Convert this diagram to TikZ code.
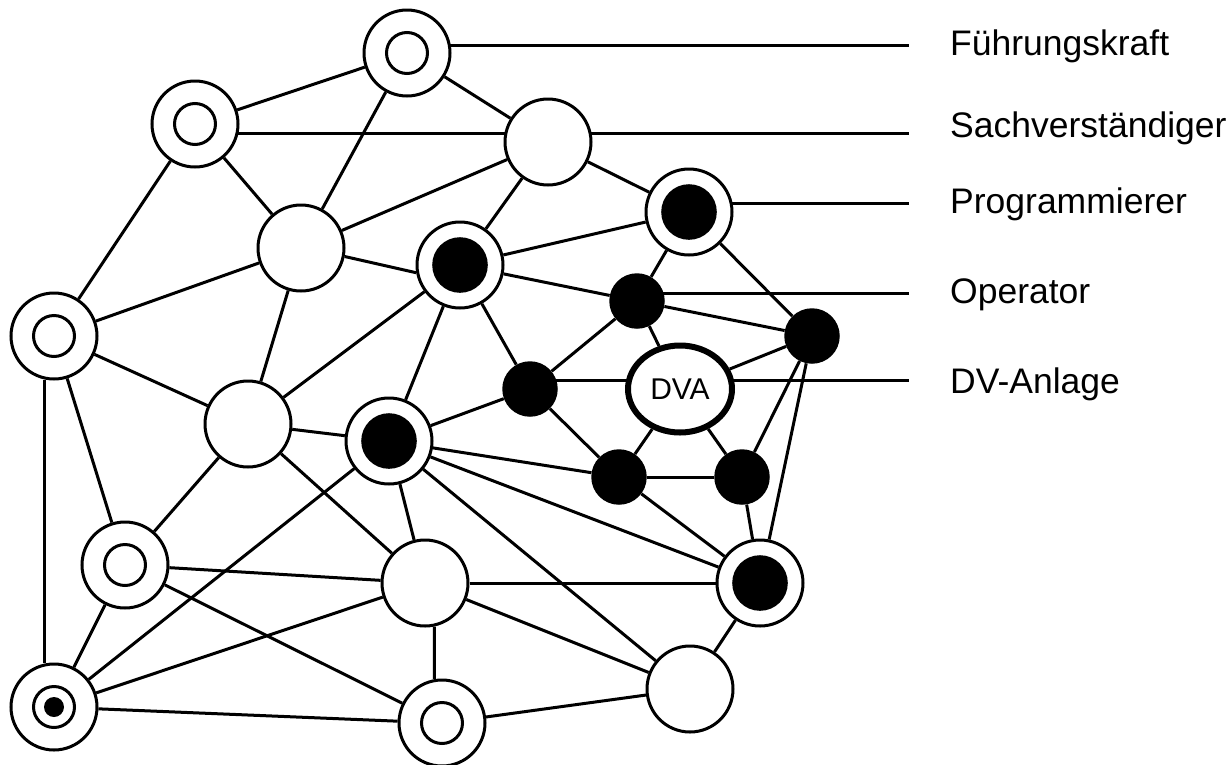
\documentclass[tikz,border=0pt]{standalone}
\usepackage{fontspec}
\setmainfont{Liberation Sans}
\usetikzlibrary{shapes.geometric,backgrounds}

\tikzset{
  person/.style={circle, draw, line width=3pt, fill=white, minimum size=86pt, inner sep=0pt},
  ring/.style={person, path picture={\draw[black, line width=3pt] (path picture bounding box.center) circle (20.5pt);}},
  core/.style={person, path picture={\fill[black] (path picture bounding box.center) circle (27.8pt);}},
  target/.style={person, path picture={
      \draw[black, line width=3pt] (path picture bounding box.center) circle (20.5pt);
      \fill[black] (path picture bounding box.center) circle (10pt);}},
  operator/.style={circle, fill=black, minimum size=55.5pt, inner sep=0pt},
  machine/.style={ellipse, draw, line width=6pt, fill=white, minimum width=104pt, minimum height=87pt,
                  inner sep=0pt, font=\fontsize{30}{35}\selectfont},
  link/.style={line width=3pt},
  role/.style={anchor=base west, inner sep=0pt, font=\fontsize{35.5}{42}\selectfont}
}

\begin{document}
\begin{tikzpicture}[x=1pt, y=-1pt]
\useasboundingbox (0,0) rectangle (1232,764);

% people and machines
\node[ring]     (A) at (407,53)  {};
\node[ring]     (B) at (195,124) {};
\node[person]   (C) at (548,142) {};
\node[core]     (G) at (689,212) {};
\node[person]   (D) at (301,248) {};
\node[core]     (E) at (460,265) {};
\node[operator] (H) at (637,301) {};
\node[ring]     (F) at (54,336)  {};
\node[operator] (I) at (812,336) {};
\node[operator] (J) at (530,389) {};
\node[machine]  (V) at (680,389) {DVA};
\node[person]   (N) at (248,424) {};
\node[core]     (M) at (389,441) {};
\node[operator] (K) at (619,477) {};
\node[operator] (L) at (742,477) {};
\node[ring]     (O) at (125,565) {};
\node[person]   (P) at (425,583) {};
\node[core]     (S) at (760,583) {};
\node[person]   (T) at (690,689) {};
\node[target]   (Q) at (54,707)  {};
\node[ring]     (R) at (442,723) {};

% role legend
\node[role] (tFk) at (950,55)  {Führungskraft};
\node[role] (tSv) at (950,137) {Sachverständiger};
\node[role] (tPr) at (950,213) {Programmierer};
\node[role] (tOp) at (950,303) {Operator};
\node[role] (tDv) at (950,393) {DV-Anlage};

\coordinate (lFk) at (909,45);
\coordinate (lSv) at (909,133);
\coordinate (lPr) at (909,203);
\coordinate (lOp) at (909,293);
\coordinate (lDv) at (909,380);

\begin{pgfonlayer}{background}
  % leader lines to the legend
  \draw[link] (A.center |- lFk) -- (lFk);
  \draw[link] (B.center |- lSv) -- (lSv);
  \draw[link] (G.center |- lPr) -- (lPr);
  \draw[link] (H.center |- lOp) -- (lOp);
  \draw[link] (J.center |- lDv) -- (lDv);

  % communication links
  \draw[link] (A) -- (B);
  \draw[link] (A) -- (C);
  \draw[link] (A) -- (D);
  \draw[link] (B) -- (D);
  \draw[link] (B) -- (F);
  \draw[link] (C) -- (D);
  \draw[link] (C) -- (E);
  \draw[link] (C) -- (G);
  \draw[link] (D.-11.8) -- (E.190.5);
  \draw[link] (D) -- (F);
  \draw[link] (D) -- (N);
  \draw[link] (E) -- (G);
  \draw[link] (E) -- (H);
  \draw[link] (E) -- (J);
  \draw[link] (E) -- (M);
  \draw[link] (E) -- (N);
  \draw[link] (F) -- (N);
  \draw[link] (F) -- (O);
  \draw[link] (F.-102) -- (Q.102);
  \draw[link] (G) -- (H);
  \draw[link] (G) -- (I);
  \draw[link] (H) -- (I);
  \draw[link] (H) -- (J);
  \draw[link] (H) -- (V);
  \draw[link] (I) -- (V);
  \draw[link] (I) -- (L);
  \draw[link] (I) -- (S);
  \draw[link] (J) -- (M);
  \draw[link] (J) -- (K);
  \draw[link] (V) -- (K);
  \draw[link] (V) -- (L);
  \draw[link] (K) -- (L);
  \draw[link] (K) -- (S);
  \draw[link] (L) -- (S);
  \draw[link] (M) -- (K);
  \draw[link] (M) -- (S);
  \draw[link] (M) -- (T);
  \draw[link] (M) -- (N);
  \draw[link] (M) -- (P);
  \draw[link] (M) -- (Q);
  \draw[link] (N) -- (O);
  \draw[link] (N) -- (P);
  \draw[link] (O) -- (P);
  \draw[link] (O) -- (R);
  \draw[link] (O) -- (Q);
  \draw[link] (P) -- (Q);
  \draw[link] (P.-78) -- (R.100.5);
  \draw[link] (P) -- (S);
  \draw[link] (P) -- (T);
  \draw[link] (Q) -- (R);
  \draw[link] (R) -- (T);
  \draw[link] (S) -- (T);
\end{pgfonlayer}
\end{tikzpicture}
\end{document}
